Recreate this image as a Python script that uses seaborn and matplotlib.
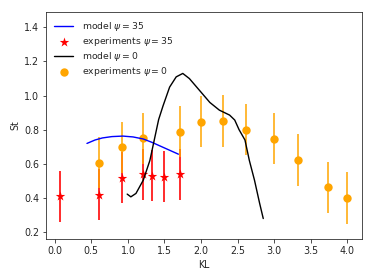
import numpy as np
import seaborn as sns
import matplotlib.pyplot as plt

# experiments psi = 35
kl_35 = [0.07, 0.60, 0.925, 1.20, 1.335, 1.50, 1.71]
st_35 = [0.41, 0.42, 0.52, 0.54, 0.53, 0.525, 0.54]
err_35 = [0.15, 0.15, 0.15, 0.15, 0.15, 0.15, 0.15]

# experiments psi = 0
kl_0 = [0.60, 0.925, 1.20, 1.71, 2.0, 2.30, 2.61, 3.0, 3.32, 3.74, 3.99]
st_0 = [0.608, 0.697, 0.75, 0.789, 0.847, 0.851, 0.80, 0.748, 0.623, 0.463, 0.40]
err_0 = [0.15, 0.15, 0.15, 0.15, 0.15, 0.15, 0.15, 0.15, 0.15, 0.15, 0.15]

# model psi = 35
model_kl_35 = [0.44, 0.55, 0.65, 0.78, 0.93, 1.07, 1.21, 1.33, 1.45, 1.57, 1.69]
model_st_35 = [0.72, 0.74, 0.752, 0.76, 0.763, 0.758, 0.746, 0.726, 0.703, 0.68, 0.657]

# model psi = 0
model_kl_0 = [0.99, 1.04, 1.11, 1.21, 1.30, 1.37, 1.42, 1.48, 1.57, 1.66, 1.75, 1.84,
              1.98, 2.12, 2.25, 2.39, 2.46, 2.52, 2.60, 2.66, 2.73, 2.80, 2.85]
model_st_0 = [0.423, 0.407, 0.427, 0.505, 0.62, 0.76, 0.86, 0.94, 1.05, 1.11, 1.13, 1.10,
              1.03, 0.96, 0.915, 0.886, 0.857, 0.80, 0.74, 0.62, 0.505, 0.37, 0.28]

sns.set_style("ticks")
plt.rcParams['font.family'] = ['DejaVu Sans']
plt.rcParams['font.size'] = 9.5
plt.rcParams['axes.labelsize'] = 9.5
plt.rcParams['xtick.labelsize'] = 9.5
plt.rcParams['ytick.labelsize'] = 9.5
plt.rcParams['legend.fontsize'] = 9.3

fig, ax = plt.subplots(figsize=(374/72, 280/72), dpi=72)
fig.subplots_adjust(left=46/374, right=362/374, top=1-12/280, bottom=1-239/280)

ax.errorbar(kl_35, st_35, yerr=err_35, fmt='none', ecolor='red', elinewidth=1.8,
            alpha=0.9, zorder=1)
sns.scatterplot(x=kl_35, y=st_35, marker='*', s=100, color='red', linewidth=0,
                label=r'experiments $\psi = 35$', ax=ax, zorder=2)
ax.errorbar(kl_0, st_0, yerr=err_0, fmt='none', ecolor='orange', elinewidth=1.8,
            alpha=0.85, zorder=3)
sns.scatterplot(x=kl_0, y=st_0, marker='o', s=70, color='orange', linewidth=0,
                label=r'experiments $\psi = 0$', ax=ax, zorder=4)
sns.lineplot(x=model_kl_35, y=model_st_35, sort=False, color='blue', lw=1.4,
             label=r'model $\psi = 35$', ax=ax, zorder=5)
sns.lineplot(x=model_kl_0, y=model_st_0, sort=False, color='black', lw=1.4,
             label=r'model $\psi = 0$', ax=ax, zorder=5)

handles, labels = ax.get_legend_handles_labels()
order = [2, 0, 3, 1]
ax.legend([handles[i] for i in order], [labels[i] for i in order],
          loc='upper left', frameon=False, labelspacing=0.2, handletextpad=1.0,
          borderaxespad=0.5)

ax.set_xlim(-0.12, 4.2)
ax.set_ylim(0.16, 1.49)
ax.set_xticks(np.arange(0, 4.01, 0.5))
ax.set(xlabel='KL', ylabel='St')

plt.savefig('out.png', dpi=72)
